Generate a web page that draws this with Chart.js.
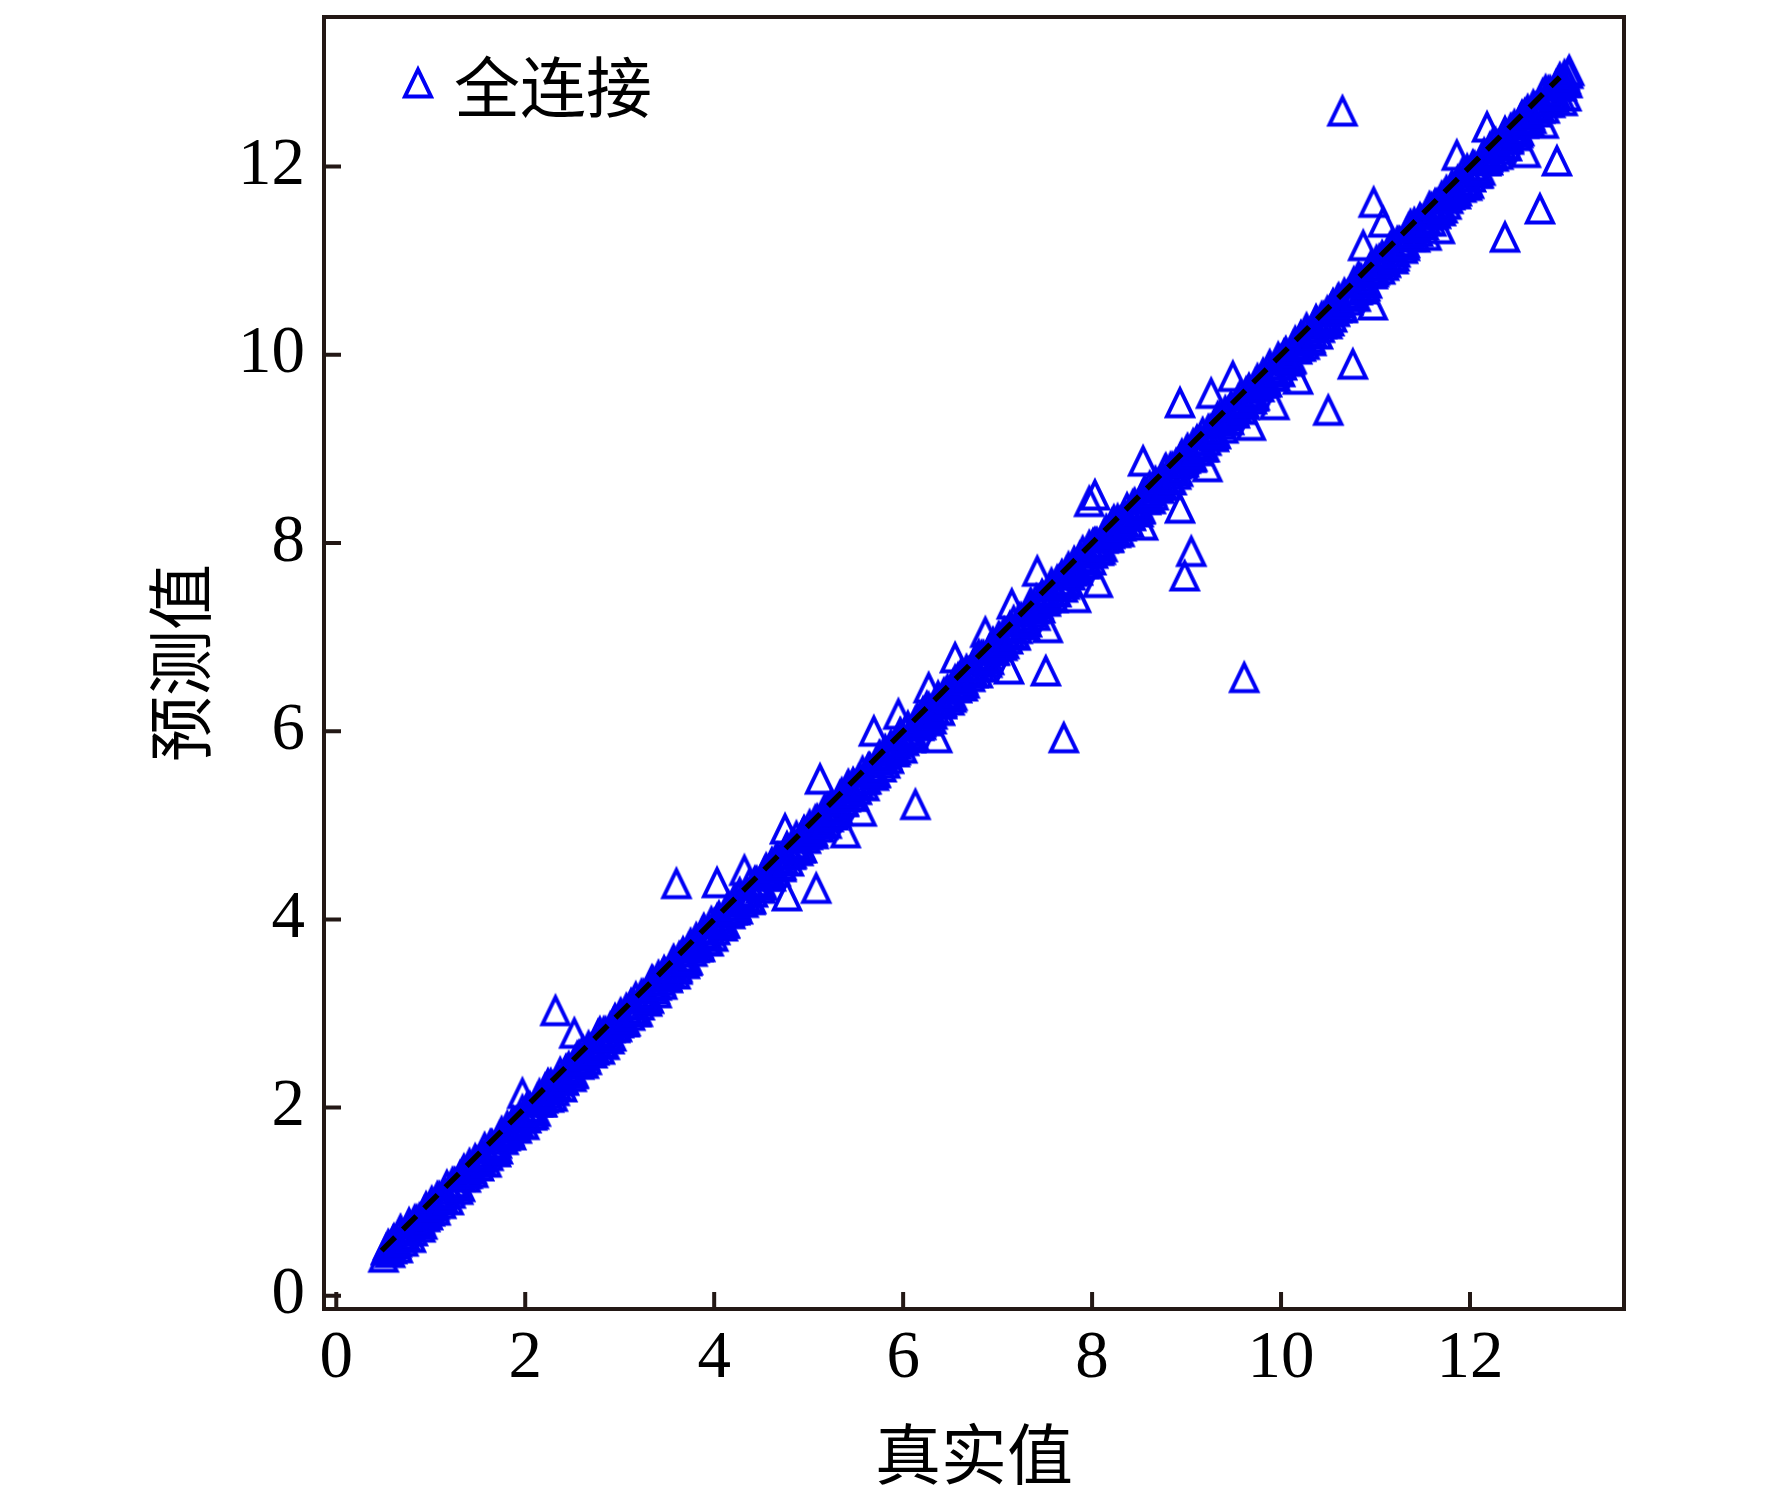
<!DOCTYPE html>
<html>
<head>
<meta charset="utf-8">
<title>全连接 预测值-真实值</title>
<script src="https://cdn.jsdelivr.net/npm/chart.js@4.4.1/dist/chart.umd.min.js"></script>
<style>
  html, body { margin: 0; padding: 0; background: #fff; }
  #wrap { width: 1772px; height: 1501px; }
</style>
</head>
<body>
<div id="wrap"><canvas id="myChart" width="1772" height="1501"></canvas></div>
<script>
// Data: true value (x) and predicted value (y)
// spread points and outliers
const trueVals = [
  // 0.5 - 2
  0.50, 0.53, 0.57, 0.60, 0.64, 0.68, 0.72, 0.77, 0.83, 0.88, 0.94, 0.99, 1.04, 1.09, 1.15,
  1.20, 1.26, 1.31, 1.37, 1.42, 1.48, 1.53, 1.59, 1.64, 1.70, 1.75, 1.81, 1.86, 1.92, 1.97,
  // 2 - 4
  2.02, 2.07, 2.13, 2.18, 2.24, 2.29, 2.35, 2.40, 2.46, 2.51, 2.57, 2.62, 2.68, 2.73, 2.79,
  2.84, 2.90, 2.95, 3.01, 3.06, 3.12, 3.17, 3.23, 3.28, 3.34, 3.39, 3.45, 3.50, 3.56, 3.61,
  3.67, 3.72, 3.78, 3.83, 3.89, 3.94, 4.00, 2.32, 2.52, 3.60,
  // 4 - 6
  4.05, 4.11, 4.16, 4.22, 4.27, 4.38, 4.43, 4.49, 4.54, 4.60, 4.65, 4.71, 4.76, 4.82, 4.87,
  4.93, 4.98, 5.04, 5.09, 5.15, 5.20, 5.26, 5.31, 5.37, 5.42, 5.48, 5.53, 5.59, 5.64, 5.70,
  5.75, 5.81, 5.86, 5.92, 5.97, 4.03, 4.32, 4.75, 4.77, 5.08, 5.12, 5.39, 5.56, 5.69, 5.95,
  // 6 - 8
  6.03, 6.08, 6.14, 6.19, 6.25, 6.30, 6.36, 6.41, 6.47, 6.52, 6.58, 6.63, 6.69, 6.74, 6.80,
  6.85, 6.91, 6.96, 7.02, 7.07, 7.13, 7.18, 7.24, 7.29, 7.35, 7.40, 7.46, 7.51, 7.57, 7.62,
  7.68, 7.73, 7.79, 7.84, 7.90, 7.95, 6.13, 6.27, 6.36, 6.55, 6.87, 7.12, 7.15, 7.42, 7.51,
  7.53, 7.70, 7.83, 7.97,
  // 8 - 10
  8.01, 8.07, 8.12, 8.18, 8.23, 8.29, 8.34, 8.40, 8.45, 8.51, 8.56, 8.62, 8.67, 8.73, 8.78,
  8.84, 8.89, 8.95, 9.00, 9.06, 9.11, 9.17, 9.22, 9.28, 9.33, 9.39, 9.44, 9.50, 9.55, 9.61,
  9.66, 9.72, 9.77, 9.83, 9.88, 9.94, 9.99, 8.03, 8.06, 8.54, 8.54, 8.93, 8.93, 8.98, 9.05,
  9.22, 9.26, 9.49, 9.61, 9.68, 9.93,
  // 10 - 12
  10.05, 10.10, 10.16, 10.21, 10.27, 10.32, 10.38, 10.43, 10.49, 10.54, 10.60, 10.65, 10.71, 10.76, 10.82,
  10.87, 10.93, 10.98, 11.04, 11.09, 11.15, 11.20, 11.26, 11.31, 11.37, 11.42, 11.48, 11.53, 11.59, 11.64,
  11.70, 11.75, 11.81, 11.86, 11.92, 11.97, 10.18, 10.50, 10.65, 10.76, 10.87, 10.97, 10.98, 11.08, 11.54,
  11.68, 11.86,
  // 12 - 13
  12.03, 12.08, 12.14, 12.19, 12.25, 12.30, 12.36, 12.41, 12.47, 12.52, 12.58, 12.63, 12.69, 12.74, 12.80,
  12.85, 12.91, 12.96, 13.00, 13.03, 12.18, 12.37, 12.59, 12.74, 12.78, 12.92, 13.05, 13.02, 12.98
];
const predVals = [
  // 0.5 - 2
  0.41, 0.49, 0.52, 0.58, 0.57, 0.70, 0.64, 0.73, 0.78, 0.82, 0.84, 0.93, 0.97, 1.05, 1.08,
  1.13, 1.19, 1.27, 1.30, 1.35, 1.42, 1.47, 1.52, 1.60, 1.62, 1.70, 1.73, 1.80, 1.85, 2.15,
  // 2 - 4
  2.00, 1.92, 2.06, 2.06, 2.25, 2.12, 2.30, 2.30, 2.43, 2.37, 2.55, 2.47, 2.61, 2.61, 2.80,
  2.67, 2.85, 2.85, 2.98, 2.92, 3.10, 3.02, 3.16, 3.16, 3.35, 3.22, 3.40, 3.40, 3.53, 3.47,
  3.65, 3.57, 3.71, 3.71, 3.90, 3.77, 3.95, 3.03, 2.79, 4.38,
  // 4 - 6
  4.03, 3.96, 4.09, 4.10, 4.28, 4.21, 4.38, 4.39, 4.51, 4.46, 4.63, 4.56, 4.69, 4.70, 4.88,
  4.76, 4.93, 4.94, 5.06, 5.01, 5.18, 5.11, 5.24, 5.25, 5.43, 5.31, 5.48, 5.49, 5.61, 5.56,
  5.73, 5.66, 5.79, 5.80, 5.98, 4.39, 4.52, 4.96, 4.25, 4.33, 5.49, 4.92, 5.15, 6.00, 6.18,
  // 6 - 8
  6.01, 5.93, 6.07, 6.07, 6.26, 6.13, 6.31, 6.31, 6.44, 6.38, 6.56, 6.48, 6.62, 6.62, 6.81,
  6.68, 6.86, 6.86, 6.99, 6.93, 7.11, 7.03, 7.17, 7.17, 7.36, 7.23, 7.41, 7.41, 7.54, 7.48,
  7.66, 7.58, 7.72, 7.72, 7.91, 7.78, 5.22, 6.46, 5.93, 6.78, 7.05, 6.66, 7.35, 7.70, 6.64,
  7.10, 5.93, 7.42, 8.44,
  // 8 - 10
  7.99, 7.92, 8.05, 8.06, 8.24, 8.12, 8.29, 8.30, 8.42, 8.37, 8.54, 8.47, 8.60, 8.61, 8.79,
  8.67, 8.84, 8.85, 8.97, 8.92, 9.09, 9.02, 9.15, 9.16, 9.34, 9.22, 9.39, 9.40, 9.52, 9.47,
  9.64, 9.57, 9.70, 9.71, 9.89, 9.77, 9.94, 8.51, 7.58, 8.87, 8.19, 8.37, 9.49, 7.65, 7.91,
  8.81, 9.59, 9.77, 6.57, 9.25, 9.47,
  // 10 - 12
  10.03, 9.95, 10.09, 10.09, 10.28, 10.15, 10.33, 10.33, 10.46, 10.40, 10.58, 10.50, 10.64, 10.64, 10.83,
  10.70, 10.88, 10.88, 11.01, 10.95, 11.13, 11.05, 11.19, 11.19, 11.38, 11.25, 11.43, 11.43, 11.56, 11.50,
  11.68, 11.60, 11.74, 11.74, 11.93, 11.80, 9.74, 9.41, 12.59, 9.90, 11.16, 10.53, 11.62, 11.41, 11.27,
  11.34, 12.12,
  // 12 - 13
  12.01, 11.93, 12.07, 12.07, 12.26, 12.13, 12.31, 12.31, 12.44, 12.38, 12.56, 12.48, 12.62, 12.62, 12.81,
  12.68, 12.86, 12.86, 12.97, 12.89, 12.42, 11.25, 12.15, 11.55, 12.46, 12.06, 13.02, 12.75, 12.70
];

// dense core of the band along the diagonal (first layer)
const bandTrue = [
  0.53, 0.57, 0.61, 0.65, 0.69, 0.73, 0.77, 0.81, 0.85, 0.89, 0.93, 0.97,
  1.01, 1.05, 1.09, 1.13, 1.17, 1.21, 1.25, 1.29, 1.33, 1.37, 1.41, 1.45, 1.49, 1.53, 1.57, 1.61, 1.65, 1.69, 1.73, 1.77, 1.81, 1.85, 1.89, 1.93, 1.97,
  2.01, 2.05, 2.09, 2.13, 2.17, 2.21, 2.25, 2.29, 2.33, 2.37, 2.41, 2.45, 2.49, 2.53, 2.57, 2.61, 2.65, 2.69, 2.73, 2.77, 2.81, 2.85, 2.89, 2.93, 2.97,
  3.01, 3.05, 3.09, 3.13, 3.17, 3.21, 3.25, 3.29, 3.33, 3.37, 3.41, 3.45, 3.49, 3.53, 3.57, 3.61, 3.65, 3.69, 3.73, 3.77, 3.81, 3.85, 3.89, 3.93, 3.97,
  4.01, 4.05, 4.09, 4.13, 4.17, 4.21, 4.25, 4.29, 4.33, 4.37, 4.41, 4.45, 4.49, 4.53, 4.57, 4.61, 4.65, 4.69, 4.73, 4.77, 4.81, 4.85, 4.89, 4.93, 4.97,
  5.01, 5.05, 5.09, 5.13, 5.17, 5.21, 5.25, 5.29, 5.33, 5.37, 5.41, 5.45, 5.49, 5.53, 5.57, 5.61, 5.65, 5.69, 5.73, 5.77, 5.81, 5.85, 5.89, 5.93, 5.97,
  6.01, 6.05, 6.09, 6.13, 6.17, 6.21, 6.25, 6.29, 6.33, 6.37, 6.41, 6.45, 6.49, 6.53, 6.57, 6.61, 6.65, 6.69, 6.73, 6.77, 6.81, 6.85, 6.89, 6.93, 6.97,
  7.01, 7.05, 7.09, 7.13, 7.17, 7.21, 7.25, 7.29, 7.33, 7.37, 7.41, 7.45, 7.49, 7.53, 7.57, 7.61, 7.65, 7.69, 7.73, 7.77, 7.81, 7.85, 7.89, 7.93, 7.97,
  8.01, 8.05, 8.09, 8.13, 8.17, 8.21, 8.25, 8.29, 8.33, 8.37, 8.41, 8.45, 8.49, 8.53, 8.57, 8.61, 8.65, 8.69, 8.73, 8.77, 8.81, 8.85, 8.89, 8.93, 8.97,
  9.01, 9.05, 9.09, 9.13, 9.17, 9.21, 9.25, 9.29, 9.33, 9.37, 9.41, 9.45, 9.49, 9.53, 9.57, 9.61, 9.65, 9.69, 9.73, 9.77, 9.81, 9.85, 9.89, 9.93, 9.97,
  10.01, 10.05, 10.09, 10.13, 10.17, 10.21, 10.25, 10.29, 10.33, 10.37, 10.41, 10.45, 10.49, 10.53, 10.57, 10.61, 10.65, 10.69, 10.73, 10.77, 10.81, 10.85, 10.89, 10.93, 10.97,
  11.01, 11.05, 11.09, 11.13, 11.17, 11.21, 11.25, 11.29, 11.33, 11.37, 11.41, 11.45, 11.49, 11.53, 11.57, 11.61, 11.65, 11.69, 11.73, 11.77, 11.81, 11.85, 11.89, 11.93, 11.97,
  12.01, 12.05, 12.09, 12.13, 12.17, 12.21, 12.25, 12.29, 12.33, 12.37, 12.41, 12.45, 12.49, 12.53, 12.57, 12.61, 12.65, 12.69, 12.73, 12.77, 12.81, 12.85, 12.89, 12.93, 12.97,
  13.01, 13.04
];
const bandPred = [
  0.49, 0.46, 0.60, 0.51, 0.62, 0.64, 0.77, 0.69, 0.80, 0.73, 0.89, 0.86,
  1.00, 0.91, 1.02, 1.04, 1.17, 1.09, 1.20, 1.13, 1.29, 1.26, 1.40, 1.31, 1.42, 1.44, 1.57, 1.49, 1.60, 1.53, 1.69, 1.66, 1.80, 1.71, 1.82, 1.84, 1.97,
  1.89, 2.00, 1.93, 2.09, 2.06, 2.20, 2.11, 2.22, 2.24, 2.37, 2.29, 2.40, 2.33, 2.49, 2.46, 2.60, 2.51, 2.62, 2.64, 2.77, 2.69, 2.80, 2.73, 2.89, 2.86,
  3.00, 2.91, 3.02, 3.04, 3.17, 3.09, 3.20, 3.13, 3.29, 3.26, 3.40, 3.31, 3.42, 3.44, 3.57, 3.49, 3.60, 3.53, 3.69, 3.66, 3.80, 3.71, 3.82, 3.84, 3.97,
  3.89, 4.00, 3.93, 4.09, 4.06, 4.20, 4.11, 4.22, 4.24, 4.37, 4.29, 4.40, 4.33, 4.49, 4.46, 4.60, 4.51, 4.62, 4.64, 4.77, 4.69, 4.80, 4.73, 4.89, 4.86,
  5.00, 4.91, 5.02, 5.04, 5.17, 5.09, 5.20, 5.13, 5.31, 5.26, 5.40, 5.31, 5.42, 5.44, 5.57, 5.49, 5.60, 5.53, 5.69, 5.62, 5.80, 5.71, 5.82, 5.86, 5.97,
  5.90, 6.05, 5.94, 6.09, 6.06, 6.20, 6.11, 6.22, 6.24, 6.37, 6.29, 6.40, 6.33, 6.49, 6.46, 6.60, 6.51, 6.62, 6.64, 6.77, 6.69, 6.80, 6.73, 6.89, 6.86,
  7.00, 6.91, 7.02, 7.04, 7.17, 7.09, 7.20, 7.13, 7.29, 7.26, 7.40, 7.31, 7.42, 7.44, 7.57, 7.49, 7.60, 7.53, 7.69, 7.66, 7.80, 7.71, 7.82, 7.84, 7.97,
  7.89, 8.00, 7.93, 8.09, 8.06, 8.20, 8.11, 8.22, 8.24, 8.37, 8.29, 8.40, 8.33, 8.49, 8.46, 8.60, 8.51, 8.62, 8.64, 8.77, 8.69, 8.80, 8.73, 8.89, 8.86,
  9.00, 8.91, 9.02, 9.04, 9.17, 9.09, 9.20, 9.13, 9.29, 9.26, 9.40, 9.31, 9.42, 9.44, 9.57, 9.49, 9.60, 9.53, 9.69, 9.66, 9.80, 9.71, 9.82, 9.84, 9.97,
  9.89, 10.00, 9.93, 10.09, 10.06, 10.20, 10.11, 10.22, 10.24, 10.37, 10.29, 10.40, 10.33, 10.49, 10.46, 10.60, 10.51, 10.62, 10.64, 10.77, 10.69, 10.80, 10.73, 10.89, 10.86,
  11.00, 10.91, 11.02, 11.04, 11.17, 11.09, 11.20, 11.13, 11.29, 11.26, 11.40, 11.31, 11.42, 11.44, 11.57, 11.49, 11.60, 11.53, 11.69, 11.66, 11.80, 11.71, 11.82, 11.84, 11.97,
  11.89, 12.00, 11.93, 12.09, 12.06, 12.20, 12.11, 12.22, 12.24, 12.37, 12.29, 12.40, 12.33, 12.49, 12.46, 12.60, 12.51, 12.62, 12.64, 12.77, 12.69, 12.80, 12.73, 12.89, 12.86,
  12.93, 12.99
];

// dense core of the band (second layer, in between)
const coreTrue = [
  0.55, 0.59, 0.63, 0.67, 0.71, 0.75, 0.79, 0.83, 0.87, 0.91, 0.95, 0.99,
  1.03, 1.07, 1.11, 1.15, 1.19, 1.23, 1.27, 1.31, 1.35, 1.39, 1.43, 1.47, 1.51, 1.55, 1.59, 1.63, 1.67, 1.71, 1.75, 1.79, 1.83, 1.87, 1.91, 1.95, 1.99,
  2.03, 2.07, 2.11, 2.15, 2.19, 2.23, 2.27, 2.31, 2.35, 2.39, 2.43, 2.47, 2.51, 2.55, 2.59, 2.63, 2.67, 2.71, 2.75, 2.79, 2.83, 2.87, 2.91, 2.95, 2.99,
  3.03, 3.07, 3.11, 3.15, 3.19, 3.23, 3.27, 3.31, 3.35, 3.39, 3.43, 3.47, 3.51, 3.55, 3.59, 3.63, 3.67, 3.71, 3.75, 3.79, 3.83, 3.87, 3.91, 3.95, 3.99,
  4.03, 4.07, 4.11, 4.15, 4.19, 4.23, 4.27, 4.31, 4.35, 4.39, 4.43, 4.47, 4.51, 4.55, 4.59, 4.63, 4.67, 4.71, 4.75, 4.79, 4.83, 4.87, 4.91, 4.95, 4.99,
  5.03, 5.07, 5.11, 5.15, 5.19, 5.23, 5.27, 5.31, 5.35, 5.39, 5.43, 5.47, 5.51, 5.55, 5.59, 5.63, 5.67, 5.71, 5.75, 5.79, 5.83, 5.87, 5.91, 5.95, 5.99,
  6.03, 6.07, 6.11, 6.15, 6.19, 6.23, 6.27, 6.31, 6.35, 6.39, 6.43, 6.47, 6.51, 6.55, 6.59, 6.63, 6.67, 6.71, 6.75, 6.79, 6.83, 6.87, 6.91, 6.95, 6.99,
  7.03, 7.07, 7.11, 7.15, 7.19, 7.23, 7.27, 7.31, 7.35, 7.39, 7.43, 7.47, 7.51, 7.55, 7.59, 7.63, 7.67, 7.71, 7.75, 7.79, 7.83, 7.87, 7.91, 7.95, 7.99,
  8.03, 8.07, 8.11, 8.15, 8.19, 8.23, 8.27, 8.31, 8.35, 8.39, 8.43, 8.47, 8.51, 8.55, 8.59, 8.63, 8.67, 8.71, 8.75, 8.79, 8.83, 8.87, 8.91, 8.95, 8.99,
  9.03, 9.07, 9.11, 9.15, 9.19, 9.23, 9.27, 9.31, 9.35, 9.39, 9.43, 9.47, 9.51, 9.55, 9.59, 9.63, 9.67, 9.71, 9.75, 9.79, 9.83, 9.87, 9.91, 9.95, 9.99,
  10.03, 10.07, 10.11, 10.15, 10.19, 10.23, 10.27, 10.31, 10.35, 10.39, 10.43, 10.47, 10.51, 10.55, 10.59, 10.63, 10.67, 10.71, 10.75, 10.79, 10.83, 10.87, 10.91, 10.95, 10.99,
  11.03, 11.07, 11.11, 11.15, 11.19, 11.23, 11.27, 11.31, 11.35, 11.39, 11.43, 11.47, 11.51, 11.55, 11.59, 11.63, 11.67, 11.71, 11.75, 11.79, 11.83, 11.87, 11.91, 11.95, 11.99,
  12.03, 12.07, 12.11, 12.15, 12.19, 12.23, 12.27, 12.31, 12.35, 12.39, 12.43, 12.47, 12.51, 12.55, 12.59, 12.63, 12.67, 12.71, 12.75, 12.79, 12.83, 12.87, 12.91, 12.95, 12.99
];
const corePred = [
  0.54, 0.50, 0.55, 0.65, 0.58, 0.69, 0.62, 0.80, 0.77, 0.76, 0.94, 0.90,
  0.95, 1.05, 0.98, 1.09, 1.02, 1.20, 1.17, 1.16, 1.34, 1.30, 1.35, 1.45, 1.38, 1.49, 1.42, 1.60, 1.57, 1.56, 1.74, 1.70, 1.75, 1.85, 1.78, 1.89, 1.82,
  2.00, 1.97, 1.96, 2.14, 2.10, 2.15, 2.25, 2.18, 2.29, 2.22, 2.40, 2.37, 2.36, 2.54, 2.50, 2.55, 2.65, 2.58, 2.69, 2.62, 2.80, 2.77, 2.76, 2.94, 2.90,
  2.95, 3.05, 2.98, 3.09, 3.02, 3.20, 3.17, 3.16, 3.34, 3.30, 3.35, 3.45, 3.38, 3.49, 3.42, 3.60, 3.57, 3.56, 3.74, 3.70, 3.75, 3.85, 3.78, 3.89, 3.82,
  4.00, 3.97, 3.96, 4.14, 4.10, 4.15, 4.25, 4.18, 4.29, 4.22, 4.40, 4.37, 4.36, 4.54, 4.50, 4.55, 4.65, 4.58, 4.69, 4.62, 4.80, 4.77, 4.76, 4.94, 4.90,
  4.95, 5.05, 4.98, 5.09, 5.02, 5.20, 5.17, 5.16, 5.34, 5.30, 5.35, 5.45, 5.38, 5.49, 5.42, 5.60, 5.57, 5.56, 5.74, 5.70, 5.75, 5.85, 5.78, 5.89, 5.82,
  6.00, 5.97, 5.96, 6.14, 6.10, 6.15, 6.25, 6.18, 6.29, 6.22, 6.40, 6.37, 6.36, 6.54, 6.50, 6.55, 6.65, 6.58, 6.69, 6.62, 6.80, 6.77, 6.76, 6.94, 6.90,
  6.95, 7.05, 6.98, 7.09, 7.02, 7.20, 7.17, 7.16, 7.34, 7.30, 7.35, 7.45, 7.38, 7.49, 7.42, 7.60, 7.57, 7.56, 7.74, 7.70, 7.75, 7.85, 7.78, 7.89, 7.82,
  8.00, 7.97, 7.96, 8.14, 8.10, 8.15, 8.25, 8.18, 8.29, 8.22, 8.40, 8.37, 8.36, 8.54, 8.50, 8.55, 8.65, 8.58, 8.69, 8.62, 8.80, 8.77, 8.76, 8.94, 8.90,
  8.95, 9.05, 8.98, 9.09, 9.02, 9.20, 9.17, 9.16, 9.34, 9.30, 9.35, 9.45, 9.38, 9.49, 9.42, 9.60, 9.57, 9.56, 9.74, 9.70, 9.75, 9.85, 9.78, 9.89, 9.82,
  10.00, 9.97, 9.96, 10.14, 10.10, 10.15, 10.25, 10.18, 10.29, 10.22, 10.40, 10.37, 10.36, 10.54, 10.50, 10.55, 10.65, 10.58, 10.69, 10.62, 10.80, 10.77, 10.76, 10.94, 10.90,
  10.95, 11.05, 10.98, 11.09, 11.02, 11.20, 11.17, 11.16, 11.34, 11.30, 11.35, 11.45, 11.38, 11.49, 11.42, 11.60, 11.57, 11.56, 11.74, 11.70, 11.75, 11.85, 11.78, 11.89, 11.82,
  12.00, 11.97, 11.96, 12.14, 12.10, 12.15, 12.25, 12.18, 12.29, 12.22, 12.40, 12.37, 12.36, 12.54, 12.50, 12.55, 12.65, 12.58, 12.69, 12.62, 12.80, 12.77, 12.76, 12.94, 12.90
];

// y = x reference line end points
const lineEnds = [0.48, 12.95];

// Axis ticks and ranges
const tickVals = [0, 2, 4, 6, 8, 10, 12];
const xMin = -0.13, xMax = 13.63;
const yMin = -0.14, yMax = 13.59;

const seriesLabel = '全连接';
const xTitle = '真实值';
const yTitle = '预测值';

const blue = 'rgb(0,0,245)';
const frameColor = '#231815';
const serif = '"Liberation Serif", "Times New Roman", serif';
const cjk = '"Noto Sans CJK SC", "Noto Sans CJK JP", sans-serif';

// Hollow triangle marker as a small canvas
function makeTriangle(w, h, lw, color) {
    const c = document.createElement('canvas');
    c.width = 38;
    c.height = 38;
    const g = c.getContext('2d');
    g.strokeStyle = color;
    g.lineWidth = lw;
    g.lineJoin = 'miter';
    g.beginPath();
    g.moveTo(19, 19 - h / 2);
    g.lineTo(19 + w / 2, 19 + h / 2);
    g.lineTo(19 - w / 2, 19 + h / 2);
    g.closePath();
    g.stroke();
    return c;
}
const tri = makeTriangle(26, 27, 4, blue);

const toPts = (xs, ys) => xs.map((v, i) => ({ x: v, y: ys[i] }));
const points = toPts(trueVals, predVals)
    .concat(toPts(bandTrue, bandPred))
    .concat(toPts(coreTrue, corePred));
const linePoints = lineEnds.map(v => ({ x: v, y: v }));

// Frame, inward ticks and legend
const framePlugin = {
    id: 'frame',
    afterDraw(chart) {
        const { ctx, chartArea: a, scales } = chart;
        ctx.save();
        ctx.strokeStyle = frameColor;
        ctx.lineWidth = 4;
        ctx.beginPath();
        tickVals.forEach(v => {
            const px = scales.x.getPixelForValue(v);
            ctx.moveTo(px, a.bottom);
            ctx.lineTo(px, a.bottom - 17);
            const py = scales.y.getPixelForValue(v);
            ctx.moveTo(a.left, py);
            ctx.lineTo(a.left + 17, py);
        });
        ctx.stroke();
        ctx.strokeRect(a.left, a.top, a.right - a.left, a.bottom - a.top);

        // legend
        ctx.drawImage(tri, a.left + 94 - 19, a.top + 66 - 19);
        ctx.fillStyle = '#000';
        ctx.font = '66px ' + cjk;
        ctx.textAlign = 'left';
        ctx.textBaseline = 'middle';
        ctx.fillText(seriesLabel, a.left + 130, a.top + 70);
        ctx.restore();
    }
};

const data = {
    datasets: [
        {
            type: 'line',
            label: 'y=x',
            data: linePoints,
            borderColor: '#000',
            borderWidth: 5.5,
            borderDash: [19, 11],
            pointRadius: 0,
            fill: false,
            order: 0
        },
        {
            type: 'scatter',
            label: seriesLabel,
            data: points,
            pointStyle: tri,
            pointRadius: 16,
            order: 1
        }
    ]
};

const config = {
    type: 'scatter',
    data: data,
    options: {
        responsive: false,
        devicePixelRatio: 1,
        animation: false,
        events: [],
        layout: { padding: { left: 0, right: 148, top: 13, bottom: 0 } },
        plugins: {
            legend: { display: false },
            tooltip: { enabled: false }
        },
        scales: {
            x: {
                type: 'linear',
                min: xMin,
                max: xMax,
                afterBuildTicks: s => { s.ticks = tickVals.map(v => ({ value: v })); },
                afterFit: s => { s.height = 192; s.paddingLeft = 0; s.paddingRight = 0; },
                grid: { display: false, drawTicks: false },
                border: { display: false },
                ticks: {
                    color: '#000',
                    padding: 10,
                    font: { family: serif, size: 67 },
                    maxRotation: 0
                },
                title: {
                    display: true,
                    text: xTitle,
                    color: '#000',
                    font: { family: cjk, size: 66 },
                    padding: { top: 0, bottom: 7 }
                }
            },
            y: {
                type: 'linear',
                min: yMin,
                max: yMax,
                afterBuildTicks: s => { s.ticks = tickVals.map(v => ({ value: v })); },
                afterFit: s => { s.width = 324; s.paddingTop = 0; s.paddingBottom = 0; },
                grid: { display: false, drawTicks: false },
                border: { display: false },
                ticks: {
                    color: '#000',
                    padding: 19,
                    font: { family: serif, size: 67 }
                },
                title: {
                    display: true,
                    text: yTitle,
                    color: '#000',
                    font: { family: cjk, size: 66 },
                    padding: { top: 140, bottom: 0 }
                }
            }
        }
    },
    plugins: [framePlugin]
};

const myChart = new Chart(document.getElementById('myChart'), config);
</script>
</body>
</html>
